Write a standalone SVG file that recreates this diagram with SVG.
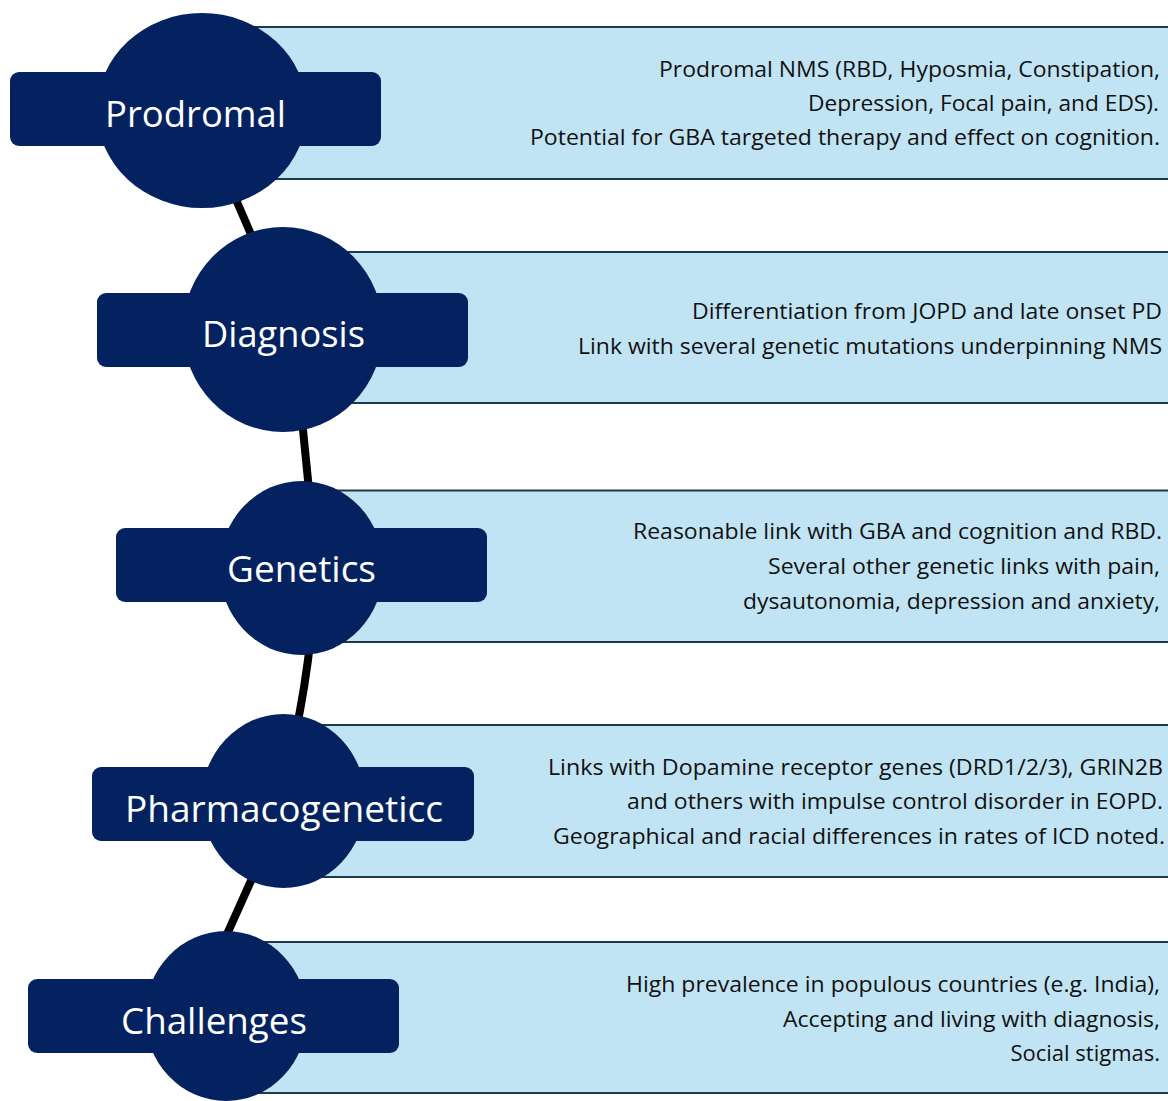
<svg xmlns="http://www.w3.org/2000/svg" width="1168" height="1101" viewBox="0 0 1168 1101">
<style>
.band{fill:#c1e4f4;stroke:#1b3a4b;stroke-width:2}
.dot{fill:#03225f}
.lbl{fill:#ffffff;font-family:"Open Sans","Noto Sans",sans-serif;font-size:37px;text-anchor:middle}
.txt{fill:#111111;font-family:"Open Sans","Noto Sans",sans-serif;font-size:22px;text-anchor:end}
.conn{fill:none;stroke:#000000;stroke-width:8;stroke-linecap:butt}
</style>
<rect width="1168" height="1101" fill="#ffffff"/>
<g id="connectors">
<path class="conn" d="M228 181 L259 253"/>
<path class="conn" d="M301 410 Q305 450 310 500"/>
<path class="conn" d="M311 635 Q305 690 295 735"/>
<path class="conn" d="M259 863 L219 952"/>
</g>
<g id="node-prodromal">
<rect class="band" x="202" y="27" width="980" height="152"/>
<ellipse class="dot" cx="202" cy="110.5" rx="105" ry="97.5"/>
<rect class="dot" x="10" y="72" width="371" height="74" rx="9"/>
<text class="lbl" x="195.5" y="127" textLength="181" lengthAdjust="spacingAndGlyphs">Prodromal</text>
<text class="txt" x="1160" y="77" textLength="501" lengthAdjust="spacingAndGlyphs">Prodromal NMS (RBD, Hyposmia, Constipation,</text>
<text class="txt" x="1159" y="111" textLength="351" lengthAdjust="spacingAndGlyphs">Depression, Focal pain, and EDS).</text>
<text class="txt" x="1160" y="145" textLength="630" lengthAdjust="spacingAndGlyphs">Potential for GBA targeted therapy and effect on cognition.</text>
</g>
<g id="node-diagnosis">
<rect class="band" x="283" y="252" width="900" height="151"/>
<ellipse class="dot" cx="283" cy="329.5" rx="100" ry="102.5"/>
<rect class="dot" x="97" y="293" width="371" height="74" rx="9"/>
<text class="lbl" x="283.5" y="347" textLength="163" lengthAdjust="spacingAndGlyphs">Diagnosis</text>
<text class="txt" x="1162" y="319" textLength="470" lengthAdjust="spacingAndGlyphs">Differentiation from JOPD and late onset PD</text>
<text class="txt" x="1162" y="354" textLength="584" lengthAdjust="spacingAndGlyphs">Link with several genetic mutations underpinning NMS</text>
</g>
<g id="node-genetics">
<rect class="band" x="301" y="490.5" width="880" height="151.5"/>
<ellipse class="dot" cx="301.5" cy="568" rx="82" ry="87"/>
<rect class="dot" x="116" y="528" width="371" height="74" rx="9"/>
<text class="lbl" x="301.5" y="582" textLength="149" lengthAdjust="spacingAndGlyphs">Genetics</text>
<text class="txt" x="1162" y="539" textLength="529" lengthAdjust="spacingAndGlyphs">Reasonable link with GBA and cognition and RBD.</text>
<text class="txt" x="1160" y="574" textLength="392" lengthAdjust="spacingAndGlyphs">Several other genetic links with pain,</text>
<text class="txt" x="1160" y="609" textLength="417" lengthAdjust="spacingAndGlyphs">dysautonomia, depression and anxiety,</text>
</g>
<g id="node-pharmacogeneticc">
<rect class="band" x="283" y="725" width="900" height="152"/>
<ellipse class="dot" cx="283.5" cy="801" rx="82" ry="87"/>
<rect class="dot" x="92" y="767" width="382" height="74" rx="9"/>
<text class="lbl" x="284" y="822" textLength="318" lengthAdjust="spacingAndGlyphs">Pharmacogeneticc</text>
<text class="txt" x="1163" y="775" textLength="615" lengthAdjust="spacingAndGlyphs">Links with Dopamine receptor genes (DRD1/2/3), GRIN2B</text>
<text class="txt" x="1163" y="809" textLength="536" lengthAdjust="spacingAndGlyphs">and others with impulse control disorder in EOPD.</text>
<text class="txt" x="1165" y="844" textLength="612" lengthAdjust="spacingAndGlyphs">Geographical and racial differences in rates of ICD noted.</text>
</g>
<g id="node-challenges">
<rect class="band" x="226" y="942" width="960" height="151"/>
<ellipse class="dot" cx="226" cy="1016" rx="81" ry="85"/>
<rect class="dot" x="28" y="979" width="371" height="74" rx="9"/>
<text class="lbl" x="214" y="1034" textLength="186" lengthAdjust="spacingAndGlyphs">Challenges</text>
<text class="txt" x="1160" y="992" textLength="534" lengthAdjust="spacingAndGlyphs">High prevalence in populous countries (e.g. India),</text>
<text class="txt" x="1160" y="1027" textLength="377" lengthAdjust="spacingAndGlyphs">Accepting and living with diagnosis,</text>
<text class="txt" x="1160" y="1061">Social stigmas.</text>
</g>
</svg>
